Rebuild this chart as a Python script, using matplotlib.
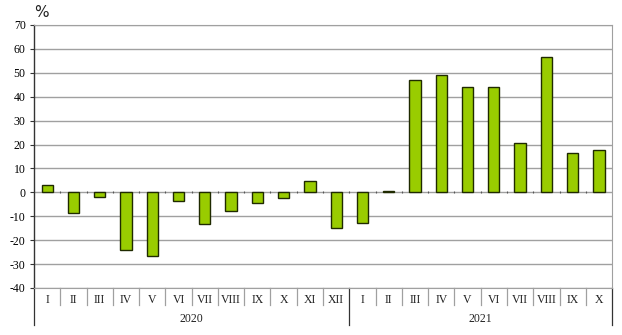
import matplotlib.pyplot as plt
import numpy as np

months = ["I", "II", "III", "IV", "V", "VI", "VII", "VIII", "IX", "X", "XI", "XII",
          "I", "II", "III", "IV", "V", "VI", "VII", "VIII", "IX", "X"]
values = [3.1, -8.6, -1.9, -23.9, -26.8, -3.6, -13.2, -7.7, -4.3, -2.5, 4.8, -15.0,
          -12.7, 0.4, 47.0, 49.0, 43.9, 43.9, 20.8, 56.5, 16.6, 17.7]
years = ["2020", "2021"]
year_counts = [12, 10]

serif = "Liberation Serif"
grid_col = "#a0a0a0"

fig = plt.figure(figsize=(6.22, 3.35), dpi=100)
ax = fig.add_axes([0.0547, 0.1403, 0.9293, 0.7851])

x = np.arange(len(values))
ax.set_axisbelow(True)
ax.bar(x, values, width=0.43, color="#99cc00", edgecolor="#1f2a00", linewidth=1.0, zorder=3)

ax.set_xlim(-0.5, len(values) - 0.5)
ax.set_ylim(-40, 70)
ax.set_yticks(range(-40, 71, 10))
ax.set_yticklabels([str(v) for v in range(-40, 71, 10)], family=serif, fontsize=8.5)
ax.tick_params(axis="y", length=3, width=0.8, color="#333333", pad=3)
ax.set_xticks([])
ax.yaxis.grid(True, color=grid_col, linewidth=1.0)

for side in ["top", "right", "bottom"]:
    ax.spines[side].set_color(grid_col)
ax.spines["left"].set_color("#333333")
ax.spines["left"].set_linewidth(1.0)

# small marks on the zero line between categories
ax.plot(x[:-1] + 0.5, np.zeros(len(x) - 1), linestyle="none", marker="|",
        markersize=1.8, markeredgewidth=0.8, color="#555555", zorder=4)

trans = ax.get_xaxis_transform()
for i, m in enumerate(months):
    ax.text(i, -0.045, m, transform=trans, ha="center", va="center",
            family=serif, fontsize=8.5, color="#222222")

# month separators and year separators under the axis
ends = [0, 12, 22]
for b in range(len(months) + 1):
    low = -0.14 if b in ends else -0.065
    ax.plot([b - 0.5, b - 0.5], [0, low], transform=trans,
            color="#333333" if b in ends else grid_col, linewidth=0.9, clip_on=False)

start = 0
for yr, n in zip(years, year_counts):
    ax.text(start + n / 2 - 0.5, -0.118, yr, transform=trans, ha="center", va="center",
            family=serif, fontsize=8.5, color="#222222")
    start += n

fig.text(0.067, 0.962, "%", ha="center", va="center", fontsize=11, color="#222222")

fig.savefig("out.png", dpi=100)
